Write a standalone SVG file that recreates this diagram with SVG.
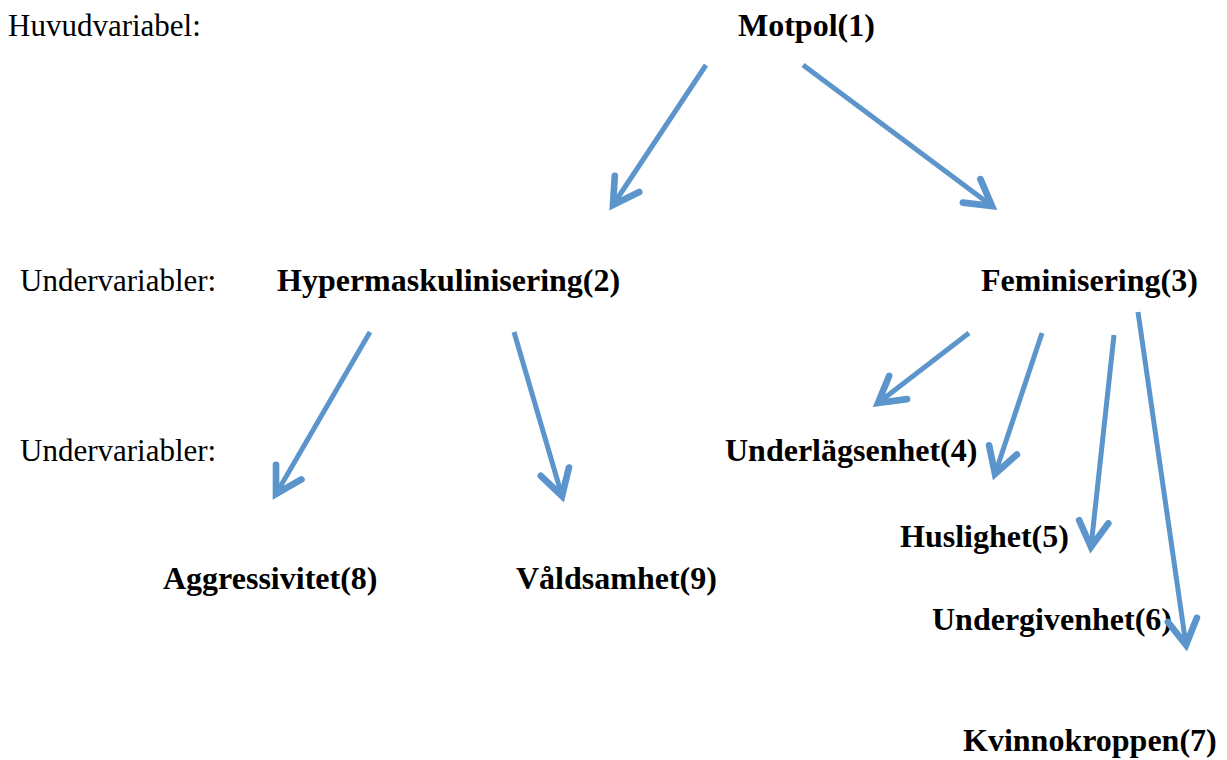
<svg xmlns="http://www.w3.org/2000/svg" width="1227" height="760" viewBox="0 0 1227 760">
<style>
.lbl{font-family:"Liberation Serif","Times New Roman",serif;font-size:31px;fill:#000}
.b{font-weight:bold;font-size:32px}
.arr{stroke:#5b95cb;stroke-width:5;fill:none;stroke-linecap:butt}
</style>
<defs>
<marker id="ah" markerUnits="userSpaceOnUse" markerWidth="40" markerHeight="40" viewBox="-25 -15 30 30" refX="0" refY="0" orient="auto">
<path d="M-19,-11 L0,0 L-19,11" fill="none" stroke="#5b95cb" stroke-width="5" stroke-linecap="round" stroke-linejoin="miter"/>
</marker>
</defs>
<rect width="1227" height="760" fill="#fff"/>
<g id="labels-levels">
<text class="lbl" x="8" y="36">Huvudvariabel:</text>
<text class="lbl" x="20" y="291">Undervariabler:</text>
<text class="lbl" x="20" y="461">Undervariabler:</text>
</g>
<g id="n1"><text class="lbl b" x="738" y="36">Motpol(1)</text></g>
<g id="n2"><text class="lbl b" x="277" y="291">Hypermaskulinisering(2)</text></g>
<g id="n3"><text class="lbl b" x="981" y="291">Feminisering(3)</text></g>
<g id="n4"><text class="lbl b" x="725" y="461">Underlägsenhet(4)</text></g>
<g id="n5"><text class="lbl b" x="900" y="547">Huslighet(5)</text></g>
<g id="n6"><text class="lbl b" x="932" y="630">Undergivenhet(6)</text></g>
<g id="n7"><text class="lbl b" x="963" y="751">Kvinnokroppen(7)</text></g>
<g id="n8"><text class="lbl b" x="163" y="589">Aggressivitet(8)</text></g>
<g id="n9"><text class="lbl b" x="516" y="589">Våldsamhet(9)</text></g>
<g id="connectors">
<line class="arr" x1="706" y1="65" x2="613" y2="205" marker-end="url(#ah)"/>
<line class="arr" x1="803" y1="65" x2="992" y2="206" marker-end="url(#ah)"/>
<line class="arr" x1="370" y1="332" x2="276" y2="494" marker-end="url(#ah)"/>
<line class="arr" x1="514" y1="332" x2="562" y2="496" marker-end="url(#ah)"/>
<line class="arr" x1="969" y1="333" x2="878" y2="403" marker-end="url(#ah)"/>
<line class="arr" x1="1042" y1="333" x2="995" y2="474" marker-end="url(#ah)"/>
<line class="arr" x1="1114" y1="335" x2="1091" y2="547" marker-end="url(#ah)"/>
<line class="arr" x1="1138" y1="312" x2="1186" y2="645" marker-end="url(#ah)"/>
</g>
</svg>
